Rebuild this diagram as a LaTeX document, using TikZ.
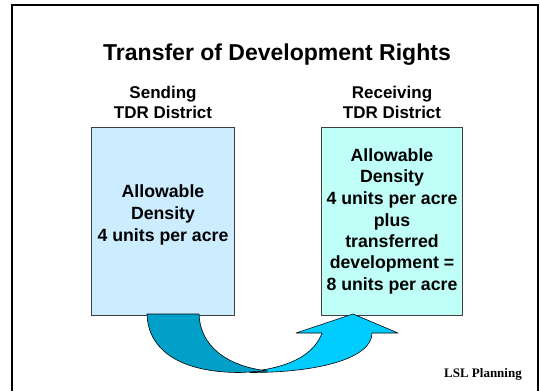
\documentclass[tikz,border=0pt]{standalone}
\usepackage{fontspec}
\setmainfont{Liberation Sans}
\newfontfamily\planfont{Liberation Serif}

\definecolor{sendfill}{RGB}{204,236,255}
\definecolor{recvfill}{RGB}{191,255,248}
\definecolor{taildark}{RGB}{0,160,200}
\definecolor{headlight}{RGB}{0,204,255}
\definecolor{boxline}{RGB}{64,64,64}

\tikzset{
  hdr/.style={anchor=base,inner sep=0pt,font=\fontsize{17}{20.4}\selectfont\bfseries},
  body/.style={anchor=base,inner sep=0pt,font=\fontsize{17.7}{21.2}\selectfont\bfseries},
  district/.style={draw=boxline,line width=0.8pt},
  ribbon/.style={draw=black,line width=0.6pt,line join=round}
}

\begin{document}
\begin{tikzpicture}[x=1pt,y=-1pt]
\path[use as bounding box] (0,0) rectangle (540,391);
% slide frame, open at the bottom
\draw[line width=1.5pt] (12,391) -- (12,5) -- (538,5) -- (538,391);
\node[anchor=base,inner sep=0pt,font=\fontsize{23}{27.6}\selectfont\bfseries] (title) at (277,60) {Transfer of Development Rights};

% sending district
\node[hdr] (sendA) at (163,98) {Sending};
\node[hdr] (sendB) at (163,118) {TDR District};
\draw[district,fill=sendfill] (91,127) rectangle (234,315);
\node[body] (sendC) at (163,197) {Allowable};
\node[body] (sendD) at (163,219) {Density};
\node[body] (sendE) at (163,241.5) {4 units per acre};

% receiving district
\node[hdr] (recvA) at (392,98) {Receiving};
\node[hdr] (recvB) at (392,118) {TDR District};
\draw[district,fill=recvfill] (321,127) rectangle (462,315);
\node[body] (recvC) at (392,161) {Allowable};
\node[body] (recvD) at (392,182.5) {Density};
\node[body] (recvE) at (392,204) {4 units per acre};
\node[body] (recvF) at (392,226) {plus};
\node[body] (recvG) at (392,247) {transferred};
\node[body] (recvH) at (392,268.5) {development =};
\node[body] (recvI) at (392,290) {8 units per acre};

% curved transfer arrow: head first, tail on top
\draw[ribbon,fill=headlight] (250,372.5) .. controls (320,372.5) and (372,358) .. (372,333)
  -- (398,333) -- (353,314) -- (296,333) -- (322,333)
  .. controls (315,352) and (295,366) .. (255,371) -- cycle;
\draw[ribbon,fill=taildark] (147,314) -- (199,314) .. controls (200,345) and (225,366) .. (268,371)
  -- (240,372.5) .. controls (180,372.5) and (148,350) .. (147,314) -- cycle;

\node[anchor=base east,inner sep=0pt,font=\fontsize{13}{15.6}\selectfont\planfont\bfseries] (firm) at (522,377) {LSL Planning};
\end{tikzpicture}
\end{document}
